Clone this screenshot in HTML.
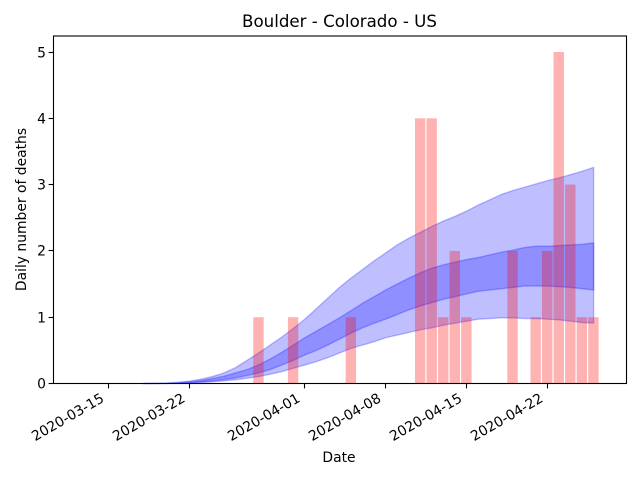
<!DOCTYPE html>
<html lang="en">
<head>
<meta charset="utf-8">
<title>Boulder - Colorado - US</title>
<style>
  html, body { margin: 0; padding: 0; background: #fff; }
  svg { display: block; font-family: "DejaVu Sans", sans-serif; fill: #000; }
</style>
</head>
<body>
<svg id="chart" xmlns="http://www.w3.org/2000/svg" width="640" height="480" viewBox="0 0 640 480">
  <rect x="0" y="0" width="640" height="480" fill="#ffffff"></rect>
  <g id="bands"></g>
  <g id="bars"></g>
  <g id="axes"></g>
  <text x="339.5" y="27" font-size="16.67" text-anchor="middle">Boulder - Colorado - US</text>
  <text x="339" y="462" font-size="13.89" text-anchor="middle">Date</text>
  <text transform="translate(26 209.5) rotate(-90)" font-size="13.89" text-anchor="middle">Daily number of deaths</text>
</svg>
<script>
const barDates = ["2020-03-28","2020-03-31","2020-04-05","2020-04-11","2020-04-12","2020-04-13","2020-04-14","2020-04-15","2020-04-19","2020-04-21","2020-04-22","2020-04-23","2020-04-24","2020-04-25","2020-04-26"];
const barValues = [1,1,1,4,4,1,2,1,2,1,2,5,3,1,1];
const bandStartDate = "2020-03-18";
const outerUpper = [0,0.002,0.007,0.017,0.035,0.065,0.105,0.16,0.24,0.35,0.46,0.58,0.7,0.83,0.97,1.13,1.29,1.45,1.59,1.72,1.85,1.97,2.09,2.19,2.28,2.37,2.45,2.52,2.6,2.69,2.77,2.85,2.91,2.96,3.01,3.06,3.1,3.15,3.2,3.26];
const innerUpper = [0,0.001,0.003,0.01,0.025,0.045,0.075,0.11,0.16,0.21,0.28,0.37,0.47,0.58,0.69,0.79,0.89,0.99,1.1,1.21,1.31,1.41,1.5,1.59,1.67,1.74,1.79,1.83,1.87,1.9,1.94,1.98,2.01,2.05,2.07,2.07,2.08,2.09,2.1,2.12];
const innerLower = [0,0.001,0.002,0.007,0.014,0.025,0.04,0.06,0.085,0.12,0.16,0.21,0.28,0.35,0.43,0.5,0.58,0.67,0.76,0.84,0.91,0.97,1.04,1.11,1.17,1.22,1.27,1.31,1.35,1.39,1.41,1.43,1.45,1.47,1.47,1.47,1.46,1.45,1.43,1.41];
const outerLower = [0,0,0.001,0.003,0.008,0.015,0.025,0.04,0.055,0.08,0.105,0.14,0.18,0.23,0.28,0.33,0.39,0.46,0.53,0.58,0.63,0.69,0.73,0.77,0.81,0.84,0.88,0.91,0.94,0.97,0.98,0.99,0.99,0.98,0.98,0.97,0.96,0.94,0.92,0.91];
const xTickLabels = ["2020-03-15","2020-03-22","2020-04-01","2020-04-08","2020-04-15","2020-04-22"];
const yTickValues = [0,1,2,3,4,5];

const NS = "http://www.w3.org/2000/svg";
const plotLeft = 53.5, plotRight = 626.5, plotTop = 36, plotBottom = 383.5;
const dayMs = 86400000;
const originMs = Date.parse("2020-03-15T00:00:00Z");
function dayOf(s) { return (Date.parse(s + "T00:00:00Z") - originMs) / dayMs; }
function xScale(day) { return 108.5 + 11.55 * day; }
function yScale(v) { return 383.5 - 66.3 * v; }
function make(tag, attrs, parent) {
  const el = document.createElementNS(NS, tag);
  for (const k in attrs) el.setAttribute(k, attrs[k]);
  parent.appendChild(el);
  return el;
}
function bandPath(upper, lower) {
  const start = dayOf(bandStartDate);
  const top = upper.map((v, i) => xScale(start + i).toFixed(2) + "," + yScale(v).toFixed(2));
  const bottom = lower.map((v, i) => xScale(start + i).toFixed(2) + "," + yScale(v).toFixed(2)).reverse();
  return "M" + top.concat(bottom).join("L") + "Z";
}

const bandsGroup = document.getElementById("bands");
const outerBand = make("path", { d: bandPath(outerUpper, outerLower), fill: "#0000ff", "fill-opacity": 0.25, stroke: "#0000ff", "stroke-opacity": 0.25, "stroke-width": 1.4 }, bandsGroup);


const innerBand = make("path", { d: bandPath(innerUpper, innerLower), fill: "#0000ff", "fill-opacity": 0.25, stroke: "#0000ff", "stroke-opacity": 0.25, "stroke-width": 1.4 }, bandsGroup);



const barsGroup = document.getElementById("bars");
barValues.forEach((v, i) => {
  const cx = xScale(dayOf(barDates[i]));
  const bar = make("rect", { x: cx - 5.4, y: yScale(v), width: 10.4, height: yScale(0) - yScale(v), fill: "#ff0000", "fill-opacity": 0.3 }, barsGroup);
  
  
});

const axesGroup = document.getElementById("axes");
const frame = make("rect", { x: plotLeft, y: plotTop, width: plotRight - plotLeft, height: plotBottom - plotTop, fill: "none", stroke: "#000", "stroke-width": 1.1 }, axesGroup);



xTickLabels.forEach((label) => {
  const x = Math.round(xScale(dayOf(label)) - 0.5) + 0.5;
  const tick = make("line", { x1: x, x2: x, y1: plotBottom, y2: plotBottom + 4.9, stroke: "#000", "stroke-width": 1.1 }, axesGroup);
  
  
  const text = make("text", { transform: "translate(" + (x - 3.5) + " 401) rotate(-30)", "font-size": 13.89, "text-anchor": "end" }, axesGroup);
  
  
  text.textContent = label;
});

yTickValues.forEach((v) => {
  const y = Math.round(yScale(v) - 0.5) + 0.5;
  const tick = make("line", { x1: plotLeft - 4.9, x2: plotLeft, y1: y, y2: y, stroke: "#000", "stroke-width": 1.1 }, axesGroup);
  
  
  const text = make("text", { x: 46, y: y + 5, "font-size": 13.89, "text-anchor": "end" }, axesGroup);
  
  
  text.textContent = String(v);
});
</script>
</body>
</html>
